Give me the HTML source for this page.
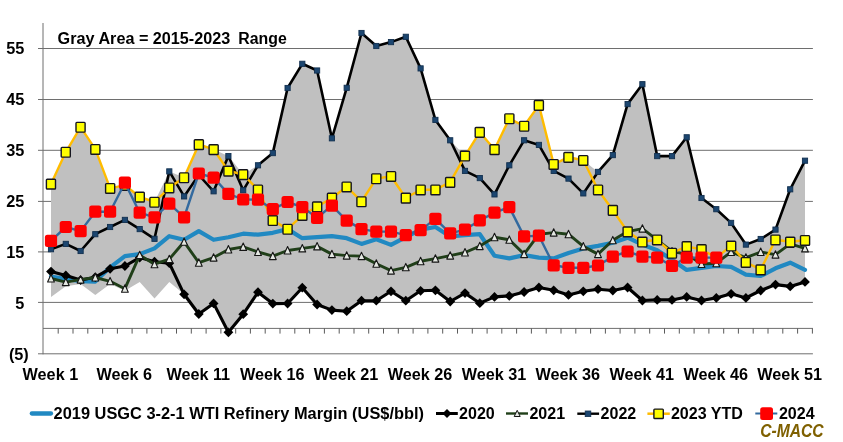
<!DOCTYPE html>
<html><head><meta charset="utf-8"><title>Chart</title>
<style>
html,body{margin:0;padding:0;background:#fff;}
body{width:843px;height:442px;overflow:hidden;}
svg{display:block;will-change:transform;}
text{font-family:"Liberation Sans",sans-serif;font-weight:bold;fill:#000;}
</style></head><body>
<svg width="843" height="442" viewBox="0 0 843 442">
<rect width="843" height="442" fill="#fff"/>
<line x1="38" y1="48.5" x2="812.9" y2="48.5" stroke="#6e6e6e" stroke-width="1"/>
<line x1="38" y1="99.5" x2="812.9" y2="99.5" stroke="#6e6e6e" stroke-width="1"/>
<line x1="38" y1="150.3" x2="812.9" y2="150.3" stroke="#6e6e6e" stroke-width="1"/>
<line x1="38" y1="201.4" x2="812.9" y2="201.4" stroke="#6e6e6e" stroke-width="1"/>
<line x1="38" y1="251.9" x2="812.9" y2="251.9" stroke="#6e6e6e" stroke-width="1"/>
<line x1="38" y1="302.4" x2="812.9" y2="302.4" stroke="#6e6e6e" stroke-width="1"/>
<line x1="43" y1="328.4" x2="812.9" y2="328.4" stroke="#6e6e6e" stroke-width="1"/>
<line x1="38" y1="353.8" x2="812.9" y2="353.8" stroke="#6e6e6e" stroke-width="1"/>
<line x1="43" y1="23" x2="43" y2="354.3" stroke="#6e6e6e" stroke-width="1"/>
<line x1="58.2" y1="328.4" x2="58.2" y2="333.6" stroke="#5a5a5a" stroke-width="1"/>
<line x1="73.0" y1="328.4" x2="73.0" y2="333.6" stroke="#5a5a5a" stroke-width="1"/>
<line x1="87.8" y1="328.4" x2="87.8" y2="333.6" stroke="#5a5a5a" stroke-width="1"/>
<line x1="102.6" y1="328.4" x2="102.6" y2="333.6" stroke="#5a5a5a" stroke-width="1"/>
<line x1="117.4" y1="328.4" x2="117.4" y2="333.6" stroke="#5a5a5a" stroke-width="1"/>
<line x1="132.1" y1="328.4" x2="132.1" y2="333.6" stroke="#5a5a5a" stroke-width="1"/>
<line x1="146.9" y1="328.4" x2="146.9" y2="333.6" stroke="#5a5a5a" stroke-width="1"/>
<line x1="161.7" y1="328.4" x2="161.7" y2="333.6" stroke="#5a5a5a" stroke-width="1"/>
<line x1="176.5" y1="328.4" x2="176.5" y2="333.6" stroke="#5a5a5a" stroke-width="1"/>
<line x1="191.3" y1="328.4" x2="191.3" y2="333.6" stroke="#5a5a5a" stroke-width="1"/>
<line x1="206.1" y1="328.4" x2="206.1" y2="333.6" stroke="#5a5a5a" stroke-width="1"/>
<line x1="220.9" y1="328.4" x2="220.9" y2="333.6" stroke="#5a5a5a" stroke-width="1"/>
<line x1="235.7" y1="328.4" x2="235.7" y2="333.6" stroke="#5a5a5a" stroke-width="1"/>
<line x1="250.4" y1="328.4" x2="250.4" y2="333.6" stroke="#5a5a5a" stroke-width="1"/>
<line x1="265.2" y1="328.4" x2="265.2" y2="333.6" stroke="#5a5a5a" stroke-width="1"/>
<line x1="280.0" y1="328.4" x2="280.0" y2="333.6" stroke="#5a5a5a" stroke-width="1"/>
<line x1="294.8" y1="328.4" x2="294.8" y2="333.6" stroke="#5a5a5a" stroke-width="1"/>
<line x1="309.6" y1="328.4" x2="309.6" y2="333.6" stroke="#5a5a5a" stroke-width="1"/>
<line x1="324.4" y1="328.4" x2="324.4" y2="333.6" stroke="#5a5a5a" stroke-width="1"/>
<line x1="339.2" y1="328.4" x2="339.2" y2="333.6" stroke="#5a5a5a" stroke-width="1"/>
<line x1="354.0" y1="328.4" x2="354.0" y2="333.6" stroke="#5a5a5a" stroke-width="1"/>
<line x1="368.7" y1="328.4" x2="368.7" y2="333.6" stroke="#5a5a5a" stroke-width="1"/>
<line x1="383.5" y1="328.4" x2="383.5" y2="333.6" stroke="#5a5a5a" stroke-width="1"/>
<line x1="398.3" y1="328.4" x2="398.3" y2="333.6" stroke="#5a5a5a" stroke-width="1"/>
<line x1="413.1" y1="328.4" x2="413.1" y2="333.6" stroke="#5a5a5a" stroke-width="1"/>
<line x1="427.9" y1="328.4" x2="427.9" y2="333.6" stroke="#5a5a5a" stroke-width="1"/>
<line x1="442.7" y1="328.4" x2="442.7" y2="333.6" stroke="#5a5a5a" stroke-width="1"/>
<line x1="457.5" y1="328.4" x2="457.5" y2="333.6" stroke="#5a5a5a" stroke-width="1"/>
<line x1="472.3" y1="328.4" x2="472.3" y2="333.6" stroke="#5a5a5a" stroke-width="1"/>
<line x1="487.1" y1="328.4" x2="487.1" y2="333.6" stroke="#5a5a5a" stroke-width="1"/>
<line x1="501.8" y1="328.4" x2="501.8" y2="333.6" stroke="#5a5a5a" stroke-width="1"/>
<line x1="516.6" y1="328.4" x2="516.6" y2="333.6" stroke="#5a5a5a" stroke-width="1"/>
<line x1="531.4" y1="328.4" x2="531.4" y2="333.6" stroke="#5a5a5a" stroke-width="1"/>
<line x1="546.2" y1="328.4" x2="546.2" y2="333.6" stroke="#5a5a5a" stroke-width="1"/>
<line x1="561.0" y1="328.4" x2="561.0" y2="333.6" stroke="#5a5a5a" stroke-width="1"/>
<line x1="575.8" y1="328.4" x2="575.8" y2="333.6" stroke="#5a5a5a" stroke-width="1"/>
<line x1="590.6" y1="328.4" x2="590.6" y2="333.6" stroke="#5a5a5a" stroke-width="1"/>
<line x1="605.4" y1="328.4" x2="605.4" y2="333.6" stroke="#5a5a5a" stroke-width="1"/>
<line x1="620.1" y1="328.4" x2="620.1" y2="333.6" stroke="#5a5a5a" stroke-width="1"/>
<line x1="634.9" y1="328.4" x2="634.9" y2="333.6" stroke="#5a5a5a" stroke-width="1"/>
<line x1="649.7" y1="328.4" x2="649.7" y2="333.6" stroke="#5a5a5a" stroke-width="1"/>
<line x1="664.5" y1="328.4" x2="664.5" y2="333.6" stroke="#5a5a5a" stroke-width="1"/>
<line x1="679.3" y1="328.4" x2="679.3" y2="333.6" stroke="#5a5a5a" stroke-width="1"/>
<line x1="694.1" y1="328.4" x2="694.1" y2="333.6" stroke="#5a5a5a" stroke-width="1"/>
<line x1="708.9" y1="328.4" x2="708.9" y2="333.6" stroke="#5a5a5a" stroke-width="1"/>
<line x1="723.7" y1="328.4" x2="723.7" y2="333.6" stroke="#5a5a5a" stroke-width="1"/>
<line x1="738.4" y1="328.4" x2="738.4" y2="333.6" stroke="#5a5a5a" stroke-width="1"/>
<line x1="753.2" y1="328.4" x2="753.2" y2="333.6" stroke="#5a5a5a" stroke-width="1"/>
<line x1="768.0" y1="328.4" x2="768.0" y2="333.6" stroke="#5a5a5a" stroke-width="1"/>
<line x1="782.8" y1="328.4" x2="782.8" y2="333.6" stroke="#5a5a5a" stroke-width="1"/>
<line x1="797.6" y1="328.4" x2="797.6" y2="333.6" stroke="#5a5a5a" stroke-width="1"/>
<line x1="812.4" y1="328.4" x2="812.4" y2="333.6" stroke="#5a5a5a" stroke-width="1"/>
<polygon points="51.0,183.9 65.8,152.1 80.6,127.1 95.3,149.2 110.1,188.3 124.9,185.2 139.7,196.9 154.5,202.0 169.3,171.4 184.1,177.6 198.8,144.4 213.6,149.5 228.4,156.1 243.2,174.5 258.0,165.3 272.8,153.1 287.6,88.0 302.3,63.8 317.1,70.5 331.9,138.3 346.7,87.8 361.5,33.0 376.3,46.0 391.0,42.1 405.8,36.8 420.6,68.4 435.4,119.9 450.2,140.3 465.0,155.9 479.8,132.2 494.5,149.5 509.3,118.6 524.1,126.0 538.9,105.1 553.7,164.3 568.5,157.2 583.3,160.2 598.0,171.9 612.8,155.1 627.6,104.1 642.4,84.2 657.2,156.1 672.0,156.1 686.7,137.3 701.5,198.0 716.3,209.2 731.1,222.9 745.9,244.6 760.7,239.0 775.5,229.6 790.2,189.3 805.0,160.7 805.0,281.9 790.2,286.4 775.5,284.6 760.7,290.5 745.9,297.9 731.1,293.8 716.3,297.9 701.5,300.5 686.7,296.9 672.0,299.9 657.2,299.9 642.4,300.5 627.6,287.5 612.8,290.5 598.0,289.2 583.3,291.3 568.5,294.9 553.7,290.3 538.9,287.5 524.1,292.0 509.3,295.9 494.5,296.9 479.8,303.2 465.0,293.1 450.2,301.5 435.4,290.3 420.6,290.8 405.8,300.7 391.0,291.3 376.3,300.7 361.5,300.7 346.7,311.2 331.9,310.1 317.1,304.5 302.3,287.7 287.6,303.5 272.8,303.6 258.0,292.2 243.2,314.2 228.4,332.3 213.6,303.4 198.8,314.0 184.1,294.3 169.3,282.1 154.5,298.4 139.7,282.1 124.9,290.8 110.1,284.1 95.3,294.9 80.6,284.1 65.8,286.2 51.0,296.9" fill="#c0c0c0"/>
<polyline points="51.0,276.5 65.8,279.0 80.6,281.1 95.3,281.6 110.1,267.3 124.9,256.1 139.7,254.1 154.5,248.4 169.3,236.2 184.1,239.8 198.8,231.1 213.6,239.8 228.4,237.2 243.2,233.7 258.0,234.7 272.8,232.8 287.6,229.1 302.3,238.2 317.1,237.2 331.9,236.2 346.7,238.2 361.5,243.9 376.3,239.3 391.0,244.9 405.8,237.2 420.6,229.6 435.4,227.0 450.2,236.4 465.0,235.2 479.8,234.2 494.5,255.8 509.3,258.4 524.1,255.1 538.9,257.6 553.7,258.4 568.5,253.0 583.3,248.4 598.0,245.9 612.8,242.8 627.6,237.7 642.4,244.6 657.2,250.2 672.0,259.7 686.7,269.9 701.5,267.8 716.3,266.0 731.1,266.8 745.9,274.7 760.7,276.0 775.5,268.3 790.2,262.7 805.0,269.9" fill="none" stroke="#2189c2" stroke-width="4.2" stroke-linejoin="round" stroke-linecap="round"/>
<polyline points="51.0,271.6 65.8,275.5 80.6,280.1 95.3,277.2 110.1,268.8 124.9,266.0 139.7,257.6 154.5,261.7 169.3,263.2 184.1,294.3 198.8,314.0 213.6,303.4 228.4,332.3 243.2,314.2 258.0,292.2 272.8,303.6 287.6,303.5 302.3,287.7 317.1,304.5 331.9,310.1 346.7,311.2 361.5,300.7 376.3,300.7 391.0,291.3 405.8,300.7 420.6,290.8 435.4,290.3 450.2,301.5 465.0,293.1 479.8,303.2 494.5,296.9 509.3,295.9 524.1,292.0 538.9,287.5 553.7,290.3 568.5,294.9 583.3,291.3 598.0,289.2 612.8,290.5 627.6,287.5 642.4,300.5 657.2,299.9 672.0,299.9 686.7,296.9 701.5,300.5 716.3,297.9 731.1,293.8 745.9,297.9 760.7,290.5 775.5,284.6 790.2,286.4 805.0,281.9" fill="none" stroke="#000000" stroke-width="3.1" stroke-linejoin="round" />
<polygon points="51.0,266.7 55.9,271.6 51.0,276.5 46.1,271.6" fill="#000"/>
<polygon points="65.8,270.6 70.7,275.5 65.8,280.4 60.9,275.5" fill="#000"/>
<polygon points="80.6,275.2 85.5,280.1 80.6,285.0 75.7,280.1" fill="#000"/>
<polygon points="95.3,272.3 100.2,277.2 95.3,282.1 90.4,277.2" fill="#000"/>
<polygon points="110.1,263.9 115.0,268.8 110.1,273.7 105.2,268.8" fill="#000"/>
<polygon points="124.9,261.1 129.8,266.0 124.9,270.9 120.0,266.0" fill="#000"/>
<polygon points="139.7,252.7 144.6,257.6 139.7,262.5 134.8,257.6" fill="#000"/>
<polygon points="154.5,256.8 159.4,261.7 154.5,266.6 149.6,261.7" fill="#000"/>
<polygon points="169.3,258.3 174.2,263.2 169.3,268.1 164.4,263.2" fill="#000"/>
<polygon points="184.1,289.4 189.0,294.3 184.1,299.2 179.2,294.3" fill="#000"/>
<polygon points="198.8,309.1 203.7,314.0 198.8,318.9 193.9,314.0" fill="#000"/>
<polygon points="213.6,298.5 218.5,303.4 213.6,308.3 208.7,303.4" fill="#000"/>
<polygon points="228.4,327.4 233.3,332.3 228.4,337.2 223.5,332.3" fill="#000"/>
<polygon points="243.2,309.3 248.1,314.2 243.2,319.1 238.3,314.2" fill="#000"/>
<polygon points="258.0,287.3 262.9,292.2 258.0,297.1 253.1,292.2" fill="#000"/>
<polygon points="272.8,298.7 277.7,303.6 272.8,308.5 267.9,303.6" fill="#000"/>
<polygon points="287.6,298.6 292.5,303.5 287.6,308.4 282.7,303.5" fill="#000"/>
<polygon points="302.3,282.8 307.2,287.7 302.3,292.6 297.4,287.7" fill="#000"/>
<polygon points="317.1,299.6 322.0,304.5 317.1,309.4 312.2,304.5" fill="#000"/>
<polygon points="331.9,305.2 336.8,310.1 331.9,315.0 327.0,310.1" fill="#000"/>
<polygon points="346.7,306.3 351.6,311.2 346.7,316.1 341.8,311.2" fill="#000"/>
<polygon points="361.5,295.8 366.4,300.7 361.5,305.6 356.6,300.7" fill="#000"/>
<polygon points="376.3,295.8 381.2,300.7 376.3,305.6 371.4,300.7" fill="#000"/>
<polygon points="391.0,286.4 395.9,291.3 391.0,296.2 386.1,291.3" fill="#000"/>
<polygon points="405.8,295.8 410.7,300.7 405.8,305.6 400.9,300.7" fill="#000"/>
<polygon points="420.6,285.9 425.5,290.8 420.6,295.7 415.7,290.8" fill="#000"/>
<polygon points="435.4,285.4 440.3,290.3 435.4,295.2 430.5,290.3" fill="#000"/>
<polygon points="450.2,296.6 455.1,301.5 450.2,306.4 445.3,301.5" fill="#000"/>
<polygon points="465.0,288.2 469.9,293.1 465.0,298.0 460.1,293.1" fill="#000"/>
<polygon points="479.8,298.3 484.7,303.2 479.8,308.1 474.9,303.2" fill="#000"/>
<polygon points="494.5,292.0 499.4,296.9 494.5,301.8 489.6,296.9" fill="#000"/>
<polygon points="509.3,291.0 514.2,295.9 509.3,300.8 504.4,295.9" fill="#000"/>
<polygon points="524.1,287.1 529.0,292.0 524.1,296.9 519.2,292.0" fill="#000"/>
<polygon points="538.9,282.6 543.8,287.5 538.9,292.4 534.0,287.5" fill="#000"/>
<polygon points="553.7,285.4 558.6,290.3 553.7,295.2 548.8,290.3" fill="#000"/>
<polygon points="568.5,290.0 573.4,294.9 568.5,299.8 563.6,294.9" fill="#000"/>
<polygon points="583.3,286.4 588.2,291.3 583.3,296.2 578.4,291.3" fill="#000"/>
<polygon points="598.0,284.3 602.9,289.2 598.0,294.1 593.1,289.2" fill="#000"/>
<polygon points="612.8,285.6 617.7,290.5 612.8,295.4 607.9,290.5" fill="#000"/>
<polygon points="627.6,282.6 632.5,287.5 627.6,292.4 622.7,287.5" fill="#000"/>
<polygon points="642.4,295.6 647.3,300.5 642.4,305.4 637.5,300.5" fill="#000"/>
<polygon points="657.2,295.1 662.1,299.9 657.2,304.8 652.3,299.9" fill="#000"/>
<polygon points="672.0,295.1 676.9,299.9 672.0,304.8 667.1,299.9" fill="#000"/>
<polygon points="686.7,292.0 691.6,296.9 686.7,301.8 681.8,296.9" fill="#000"/>
<polygon points="701.5,295.6 706.4,300.5 701.5,305.4 696.6,300.5" fill="#000"/>
<polygon points="716.3,293.0 721.2,297.9 716.3,302.8 711.4,297.9" fill="#000"/>
<polygon points="731.1,288.9 736.0,293.8 731.1,298.7 726.2,293.8" fill="#000"/>
<polygon points="745.9,293.0 750.8,297.9 745.9,302.8 741.0,297.9" fill="#000"/>
<polygon points="760.7,285.6 765.6,290.5 760.7,295.4 755.8,290.5" fill="#000"/>
<polygon points="775.5,279.8 780.4,284.6 775.5,289.5 770.6,284.6" fill="#000"/>
<polygon points="790.2,281.5 795.1,286.4 790.2,291.3 785.3,286.4" fill="#000"/>
<polygon points="805.0,277.0 809.9,281.9 805.0,286.8 800.1,281.9" fill="#000"/>
<polyline points="51.0,278.5 65.8,282.1 80.6,279.6 95.3,277.5 110.1,281.3 124.9,288.7 139.7,255.1 154.5,264.2 169.3,259.1 184.1,241.8 198.8,262.7 213.6,257.6 228.4,249.5 243.2,246.9 258.0,252.0 272.8,256.1 287.6,250.5 302.3,248.4 317.1,246.4 331.9,254.1 346.7,255.6 361.5,256.1 376.3,263.7 391.0,270.6 405.8,267.3 420.6,261.2 435.4,258.6 450.2,255.6 465.0,252.5 479.8,246.1 494.5,237.2 509.3,239.8 524.1,254.1 538.9,234.2 553.7,232.6 568.5,234.2 583.3,246.4 598.0,254.1 612.8,240.3 627.6,231.6 642.4,228.6 657.2,239.8 672.0,251.5 686.7,254.1 701.5,264.0 716.3,263.2 731.1,252.0 745.9,257.6 760.7,252.0 775.5,254.6 790.2,243.9 805.0,248.4" fill="none" stroke="#203f19" stroke-width="2.9" stroke-linejoin="round" />
<polygon points="51.0,274.6 54.4,282.0 47.6,282.0" fill="#e4e8e2" stroke="#151515" stroke-width="1.1" stroke-linejoin="round"/>
<polygon points="65.8,278.2 69.2,285.6 62.4,285.6" fill="#e4e8e2" stroke="#151515" stroke-width="1.1" stroke-linejoin="round"/>
<polygon points="80.6,275.7 84.0,283.1 77.2,283.1" fill="#e4e8e2" stroke="#151515" stroke-width="1.1" stroke-linejoin="round"/>
<polygon points="95.3,273.6 98.7,281.0 91.9,281.0" fill="#e4e8e2" stroke="#151515" stroke-width="1.1" stroke-linejoin="round"/>
<polygon points="110.1,277.4 113.5,284.8 106.7,284.8" fill="#e4e8e2" stroke="#151515" stroke-width="1.1" stroke-linejoin="round"/>
<polygon points="124.9,284.8 128.3,292.2 121.5,292.2" fill="#e4e8e2" stroke="#151515" stroke-width="1.1" stroke-linejoin="round"/>
<polygon points="139.7,251.2 143.1,258.6 136.3,258.6" fill="#e4e8e2" stroke="#151515" stroke-width="1.1" stroke-linejoin="round"/>
<polygon points="154.5,260.4 157.9,267.8 151.1,267.8" fill="#e4e8e2" stroke="#151515" stroke-width="1.1" stroke-linejoin="round"/>
<polygon points="169.3,255.2 172.7,262.6 165.9,262.6" fill="#e4e8e2" stroke="#151515" stroke-width="1.1" stroke-linejoin="round"/>
<polygon points="184.1,237.9 187.5,245.3 180.7,245.3" fill="#e4e8e2" stroke="#151515" stroke-width="1.1" stroke-linejoin="round"/>
<polygon points="198.8,258.8 202.2,266.2 195.4,266.2" fill="#e4e8e2" stroke="#151515" stroke-width="1.1" stroke-linejoin="round"/>
<polygon points="213.6,253.7 217.0,261.1 210.2,261.1" fill="#e4e8e2" stroke="#151515" stroke-width="1.1" stroke-linejoin="round"/>
<polygon points="228.4,245.6 231.8,253.0 225.0,253.0" fill="#e4e8e2" stroke="#151515" stroke-width="1.1" stroke-linejoin="round"/>
<polygon points="243.2,243.0 246.6,250.4 239.8,250.4" fill="#e4e8e2" stroke="#151515" stroke-width="1.1" stroke-linejoin="round"/>
<polygon points="258.0,248.1 261.4,255.5 254.6,255.5" fill="#e4e8e2" stroke="#151515" stroke-width="1.1" stroke-linejoin="round"/>
<polygon points="272.8,252.2 276.2,259.6 269.4,259.6" fill="#e4e8e2" stroke="#151515" stroke-width="1.1" stroke-linejoin="round"/>
<polygon points="287.6,246.6 291.0,254.0 284.2,254.0" fill="#e4e8e2" stroke="#151515" stroke-width="1.1" stroke-linejoin="round"/>
<polygon points="302.3,244.5 305.7,251.9 298.9,251.9" fill="#e4e8e2" stroke="#151515" stroke-width="1.1" stroke-linejoin="round"/>
<polygon points="317.1,242.5 320.5,249.9 313.7,249.9" fill="#e4e8e2" stroke="#151515" stroke-width="1.1" stroke-linejoin="round"/>
<polygon points="331.9,250.2 335.3,257.6 328.5,257.6" fill="#e4e8e2" stroke="#151515" stroke-width="1.1" stroke-linejoin="round"/>
<polygon points="346.7,251.7 350.1,259.1 343.3,259.1" fill="#e4e8e2" stroke="#151515" stroke-width="1.1" stroke-linejoin="round"/>
<polygon points="361.5,252.2 364.9,259.6 358.1,259.6" fill="#e4e8e2" stroke="#151515" stroke-width="1.1" stroke-linejoin="round"/>
<polygon points="376.3,259.8 379.7,267.2 372.9,267.2" fill="#e4e8e2" stroke="#151515" stroke-width="1.1" stroke-linejoin="round"/>
<polygon points="391.0,266.7 394.4,274.1 387.6,274.1" fill="#e4e8e2" stroke="#151515" stroke-width="1.1" stroke-linejoin="round"/>
<polygon points="405.8,263.4 409.2,270.8 402.4,270.8" fill="#e4e8e2" stroke="#151515" stroke-width="1.1" stroke-linejoin="round"/>
<polygon points="420.6,257.3 424.0,264.7 417.2,264.7" fill="#e4e8e2" stroke="#151515" stroke-width="1.1" stroke-linejoin="round"/>
<polygon points="435.4,254.7 438.8,262.1 432.0,262.1" fill="#e4e8e2" stroke="#151515" stroke-width="1.1" stroke-linejoin="round"/>
<polygon points="450.2,251.7 453.6,259.1 446.8,259.1" fill="#e4e8e2" stroke="#151515" stroke-width="1.1" stroke-linejoin="round"/>
<polygon points="465.0,248.6 468.4,256.0 461.6,256.0" fill="#e4e8e2" stroke="#151515" stroke-width="1.1" stroke-linejoin="round"/>
<polygon points="479.8,242.2 483.2,249.6 476.4,249.6" fill="#e4e8e2" stroke="#151515" stroke-width="1.1" stroke-linejoin="round"/>
<polygon points="494.5,233.3 497.9,240.7 491.1,240.7" fill="#e4e8e2" stroke="#151515" stroke-width="1.1" stroke-linejoin="round"/>
<polygon points="509.3,235.9 512.7,243.3 505.9,243.3" fill="#e4e8e2" stroke="#151515" stroke-width="1.1" stroke-linejoin="round"/>
<polygon points="524.1,250.2 527.5,257.6 520.7,257.6" fill="#e4e8e2" stroke="#151515" stroke-width="1.1" stroke-linejoin="round"/>
<polygon points="538.9,230.3 542.3,237.7 535.5,237.7" fill="#e4e8e2" stroke="#151515" stroke-width="1.1" stroke-linejoin="round"/>
<polygon points="553.7,228.7 557.1,236.1 550.3,236.1" fill="#e4e8e2" stroke="#151515" stroke-width="1.1" stroke-linejoin="round"/>
<polygon points="568.5,230.3 571.9,237.7 565.1,237.7" fill="#e4e8e2" stroke="#151515" stroke-width="1.1" stroke-linejoin="round"/>
<polygon points="583.3,242.5 586.7,249.9 579.9,249.9" fill="#e4e8e2" stroke="#151515" stroke-width="1.1" stroke-linejoin="round"/>
<polygon points="598.0,250.2 601.4,257.6 594.6,257.6" fill="#e4e8e2" stroke="#151515" stroke-width="1.1" stroke-linejoin="round"/>
<polygon points="612.8,236.4 616.2,243.8 609.4,243.8" fill="#e4e8e2" stroke="#151515" stroke-width="1.1" stroke-linejoin="round"/>
<polygon points="627.6,227.7 631.0,235.1 624.2,235.1" fill="#e4e8e2" stroke="#151515" stroke-width="1.1" stroke-linejoin="round"/>
<polygon points="642.4,224.7 645.8,232.1 639.0,232.1" fill="#e4e8e2" stroke="#151515" stroke-width="1.1" stroke-linejoin="round"/>
<polygon points="657.2,235.9 660.6,243.3 653.8,243.3" fill="#e4e8e2" stroke="#151515" stroke-width="1.1" stroke-linejoin="round"/>
<polygon points="672.0,247.6 675.4,255.0 668.6,255.0" fill="#e4e8e2" stroke="#151515" stroke-width="1.1" stroke-linejoin="round"/>
<polygon points="686.7,250.2 690.1,257.6 683.3,257.6" fill="#e4e8e2" stroke="#151515" stroke-width="1.1" stroke-linejoin="round"/>
<polygon points="701.5,260.1 704.9,267.5 698.1,267.5" fill="#e4e8e2" stroke="#151515" stroke-width="1.1" stroke-linejoin="round"/>
<polygon points="716.3,259.3 719.7,266.7 712.9,266.7" fill="#e4e8e2" stroke="#151515" stroke-width="1.1" stroke-linejoin="round"/>
<polygon points="731.1,248.1 734.5,255.5 727.7,255.5" fill="#e4e8e2" stroke="#151515" stroke-width="1.1" stroke-linejoin="round"/>
<polygon points="745.9,253.7 749.3,261.1 742.5,261.1" fill="#e4e8e2" stroke="#151515" stroke-width="1.1" stroke-linejoin="round"/>
<polygon points="760.7,248.1 764.1,255.5 757.3,255.5" fill="#e4e8e2" stroke="#151515" stroke-width="1.1" stroke-linejoin="round"/>
<polygon points="775.5,250.7 778.9,258.1 772.1,258.1" fill="#e4e8e2" stroke="#151515" stroke-width="1.1" stroke-linejoin="round"/>
<polygon points="790.2,240.0 793.6,247.4 786.8,247.4" fill="#e4e8e2" stroke="#151515" stroke-width="1.1" stroke-linejoin="round"/>
<polygon points="805.0,244.5 808.4,251.9 801.6,251.9" fill="#e4e8e2" stroke="#151515" stroke-width="1.1" stroke-linejoin="round"/>
<polyline points="51.0,249.2 65.8,243.9 80.6,251.0 95.3,234.2 110.1,227.0 124.9,219.9 139.7,229.1 154.5,238.8 169.3,171.4 184.1,196.4 198.8,175.0 213.6,191.3 228.4,156.1 243.2,190.3 258.0,165.3 272.8,153.1 287.6,88.0 302.3,63.8 317.1,70.5 331.9,138.3 346.7,87.8 361.5,33.0 376.3,46.0 391.0,42.1 405.8,36.8 420.6,68.4 435.4,119.9 450.2,140.3 465.0,170.9 479.8,178.1 494.5,194.4 509.3,165.3 524.1,140.3 538.9,144.9 553.7,170.9 568.5,178.6 583.3,193.4 598.0,171.9 612.8,155.1 627.6,104.1 642.4,84.2 657.2,156.1 672.0,156.1 686.7,137.3 701.5,198.0 716.3,209.2 731.1,222.9 745.9,244.6 760.7,239.0 775.5,229.6 790.2,189.3 805.0,160.7" fill="none" stroke="#000000" stroke-width="2.6" stroke-linejoin="round" />
<rect x="48.4" y="246.6" width="5.2" height="5.2" fill="#1c4670" stroke="#12304f" stroke-width="0.9"/>
<rect x="63.2" y="241.3" width="5.2" height="5.2" fill="#1c4670" stroke="#12304f" stroke-width="0.9"/>
<rect x="78.0" y="248.4" width="5.2" height="5.2" fill="#1c4670" stroke="#12304f" stroke-width="0.9"/>
<rect x="92.7" y="231.6" width="5.2" height="5.2" fill="#1c4670" stroke="#12304f" stroke-width="0.9"/>
<rect x="107.5" y="224.4" width="5.2" height="5.2" fill="#1c4670" stroke="#12304f" stroke-width="0.9"/>
<rect x="122.3" y="217.3" width="5.2" height="5.2" fill="#1c4670" stroke="#12304f" stroke-width="0.9"/>
<rect x="137.1" y="226.5" width="5.2" height="5.2" fill="#1c4670" stroke="#12304f" stroke-width="0.9"/>
<rect x="151.9" y="236.2" width="5.2" height="5.2" fill="#1c4670" stroke="#12304f" stroke-width="0.9"/>
<rect x="166.7" y="168.8" width="5.2" height="5.2" fill="#1c4670" stroke="#12304f" stroke-width="0.9"/>
<rect x="181.5" y="193.8" width="5.2" height="5.2" fill="#1c4670" stroke="#12304f" stroke-width="0.9"/>
<rect x="196.2" y="172.4" width="5.2" height="5.2" fill="#1c4670" stroke="#12304f" stroke-width="0.9"/>
<rect x="211.0" y="188.7" width="5.2" height="5.2" fill="#1c4670" stroke="#12304f" stroke-width="0.9"/>
<rect x="225.8" y="153.5" width="5.2" height="5.2" fill="#1c4670" stroke="#12304f" stroke-width="0.9"/>
<rect x="240.6" y="187.7" width="5.2" height="5.2" fill="#1c4670" stroke="#12304f" stroke-width="0.9"/>
<rect x="255.4" y="162.7" width="5.2" height="5.2" fill="#1c4670" stroke="#12304f" stroke-width="0.9"/>
<rect x="270.2" y="150.5" width="5.2" height="5.2" fill="#1c4670" stroke="#12304f" stroke-width="0.9"/>
<rect x="285.0" y="85.4" width="5.2" height="5.2" fill="#1c4670" stroke="#12304f" stroke-width="0.9"/>
<rect x="299.7" y="61.2" width="5.2" height="5.2" fill="#1c4670" stroke="#12304f" stroke-width="0.9"/>
<rect x="314.5" y="67.9" width="5.2" height="5.2" fill="#1c4670" stroke="#12304f" stroke-width="0.9"/>
<rect x="329.3" y="135.7" width="5.2" height="5.2" fill="#1c4670" stroke="#12304f" stroke-width="0.9"/>
<rect x="344.1" y="85.2" width="5.2" height="5.2" fill="#1c4670" stroke="#12304f" stroke-width="0.9"/>
<rect x="358.9" y="30.4" width="5.2" height="5.2" fill="#1c4670" stroke="#12304f" stroke-width="0.9"/>
<rect x="373.7" y="43.4" width="5.2" height="5.2" fill="#1c4670" stroke="#12304f" stroke-width="0.9"/>
<rect x="388.4" y="39.5" width="5.2" height="5.2" fill="#1c4670" stroke="#12304f" stroke-width="0.9"/>
<rect x="403.2" y="34.2" width="5.2" height="5.2" fill="#1c4670" stroke="#12304f" stroke-width="0.9"/>
<rect x="418.0" y="65.8" width="5.2" height="5.2" fill="#1c4670" stroke="#12304f" stroke-width="0.9"/>
<rect x="432.8" y="117.3" width="5.2" height="5.2" fill="#1c4670" stroke="#12304f" stroke-width="0.9"/>
<rect x="447.6" y="137.7" width="5.2" height="5.2" fill="#1c4670" stroke="#12304f" stroke-width="0.9"/>
<rect x="462.4" y="168.3" width="5.2" height="5.2" fill="#1c4670" stroke="#12304f" stroke-width="0.9"/>
<rect x="477.2" y="175.5" width="5.2" height="5.2" fill="#1c4670" stroke="#12304f" stroke-width="0.9"/>
<rect x="491.9" y="191.8" width="5.2" height="5.2" fill="#1c4670" stroke="#12304f" stroke-width="0.9"/>
<rect x="506.7" y="162.7" width="5.2" height="5.2" fill="#1c4670" stroke="#12304f" stroke-width="0.9"/>
<rect x="521.5" y="137.7" width="5.2" height="5.2" fill="#1c4670" stroke="#12304f" stroke-width="0.9"/>
<rect x="536.3" y="142.3" width="5.2" height="5.2" fill="#1c4670" stroke="#12304f" stroke-width="0.9"/>
<rect x="551.1" y="168.3" width="5.2" height="5.2" fill="#1c4670" stroke="#12304f" stroke-width="0.9"/>
<rect x="565.9" y="176.0" width="5.2" height="5.2" fill="#1c4670" stroke="#12304f" stroke-width="0.9"/>
<rect x="580.7" y="190.8" width="5.2" height="5.2" fill="#1c4670" stroke="#12304f" stroke-width="0.9"/>
<rect x="595.4" y="169.3" width="5.2" height="5.2" fill="#1c4670" stroke="#12304f" stroke-width="0.9"/>
<rect x="610.2" y="152.5" width="5.2" height="5.2" fill="#1c4670" stroke="#12304f" stroke-width="0.9"/>
<rect x="625.0" y="101.5" width="5.2" height="5.2" fill="#1c4670" stroke="#12304f" stroke-width="0.9"/>
<rect x="639.8" y="81.6" width="5.2" height="5.2" fill="#1c4670" stroke="#12304f" stroke-width="0.9"/>
<rect x="654.6" y="153.5" width="5.2" height="5.2" fill="#1c4670" stroke="#12304f" stroke-width="0.9"/>
<rect x="669.4" y="153.5" width="5.2" height="5.2" fill="#1c4670" stroke="#12304f" stroke-width="0.9"/>
<rect x="684.1" y="134.7" width="5.2" height="5.2" fill="#1c4670" stroke="#12304f" stroke-width="0.9"/>
<rect x="698.9" y="195.4" width="5.2" height="5.2" fill="#1c4670" stroke="#12304f" stroke-width="0.9"/>
<rect x="713.7" y="206.6" width="5.2" height="5.2" fill="#1c4670" stroke="#12304f" stroke-width="0.9"/>
<rect x="728.5" y="220.3" width="5.2" height="5.2" fill="#1c4670" stroke="#12304f" stroke-width="0.9"/>
<rect x="743.3" y="242.0" width="5.2" height="5.2" fill="#1c4670" stroke="#12304f" stroke-width="0.9"/>
<rect x="758.1" y="236.4" width="5.2" height="5.2" fill="#1c4670" stroke="#12304f" stroke-width="0.9"/>
<rect x="772.9" y="227.0" width="5.2" height="5.2" fill="#1c4670" stroke="#12304f" stroke-width="0.9"/>
<rect x="787.6" y="186.7" width="5.2" height="5.2" fill="#1c4670" stroke="#12304f" stroke-width="0.9"/>
<rect x="802.4" y="158.1" width="5.2" height="5.2" fill="#1c4670" stroke="#12304f" stroke-width="0.9"/>
<polyline points="51.0,183.9 65.8,152.1 80.6,127.1 95.3,149.2 110.1,188.3 124.9,185.2 139.7,196.9 154.5,202.0 169.3,187.8 184.1,177.6 198.8,144.4 213.6,149.5 228.4,170.9 243.2,174.5 258.0,189.8 272.8,220.4 287.6,229.1 302.3,215.3 317.1,206.6 331.9,198.0 346.7,186.7 361.5,201.5 376.3,178.6 391.0,176.3 405.8,198.0 420.6,189.8 435.4,189.8 450.2,182.1 465.0,155.9 479.8,132.2 494.5,149.5 509.3,118.6 524.1,126.0 538.9,105.1 553.7,164.3 568.5,157.2 583.3,160.2 598.0,189.8 612.8,210.2 627.6,231.6 642.4,241.8 657.2,239.8 672.0,253.0 686.7,246.4 701.5,249.5 716.3,257.6 731.1,245.9 745.9,262.2 760.7,269.6 775.5,239.8 790.2,241.8 805.0,240.3" fill="none" stroke="#ffbc00" stroke-width="2.4" stroke-linejoin="round" />
<rect x="46.4" y="179.3" width="9.1" height="9.7" rx="0.8" fill="#ffff00" stroke="#15151f" stroke-width="1.4"/>
<rect x="61.2" y="147.4" width="9.1" height="9.7" rx="0.8" fill="#ffff00" stroke="#15151f" stroke-width="1.4"/>
<rect x="76.0" y="122.4" width="9.1" height="9.7" rx="0.8" fill="#ffff00" stroke="#15151f" stroke-width="1.4"/>
<rect x="90.8" y="144.6" width="9.1" height="9.7" rx="0.8" fill="#ffff00" stroke="#15151f" stroke-width="1.4"/>
<rect x="105.6" y="183.6" width="9.1" height="9.7" rx="0.8" fill="#ffff00" stroke="#15151f" stroke-width="1.4"/>
<rect x="120.4" y="180.6" width="9.1" height="9.7" rx="0.8" fill="#ffff00" stroke="#15151f" stroke-width="1.4"/>
<rect x="135.2" y="192.3" width="9.1" height="9.7" rx="0.8" fill="#ffff00" stroke="#15151f" stroke-width="1.4"/>
<rect x="149.9" y="197.4" width="9.1" height="9.7" rx="0.8" fill="#ffff00" stroke="#15151f" stroke-width="1.4"/>
<rect x="164.7" y="183.1" width="9.1" height="9.7" rx="0.8" fill="#ffff00" stroke="#15151f" stroke-width="1.4"/>
<rect x="179.5" y="172.9" width="9.1" height="9.7" rx="0.8" fill="#ffff00" stroke="#15151f" stroke-width="1.4"/>
<rect x="194.3" y="139.8" width="9.1" height="9.7" rx="0.8" fill="#ffff00" stroke="#15151f" stroke-width="1.4"/>
<rect x="209.1" y="144.8" width="9.1" height="9.7" rx="0.8" fill="#ffff00" stroke="#15151f" stroke-width="1.4"/>
<rect x="223.9" y="166.3" width="9.1" height="9.7" rx="0.8" fill="#ffff00" stroke="#15151f" stroke-width="1.4"/>
<rect x="238.6" y="169.8" width="9.1" height="9.7" rx="0.8" fill="#ffff00" stroke="#15151f" stroke-width="1.4"/>
<rect x="253.4" y="185.1" width="9.1" height="9.7" rx="0.8" fill="#ffff00" stroke="#15151f" stroke-width="1.4"/>
<rect x="268.2" y="215.7" width="9.1" height="9.7" rx="0.8" fill="#ffff00" stroke="#15151f" stroke-width="1.4"/>
<rect x="283.0" y="224.4" width="9.1" height="9.7" rx="0.8" fill="#ffff00" stroke="#15151f" stroke-width="1.4"/>
<rect x="297.8" y="210.6" width="9.1" height="9.7" rx="0.8" fill="#ffff00" stroke="#15151f" stroke-width="1.4"/>
<rect x="312.6" y="202.0" width="9.1" height="9.7" rx="0.8" fill="#ffff00" stroke="#15151f" stroke-width="1.4"/>
<rect x="327.4" y="193.3" width="9.1" height="9.7" rx="0.8" fill="#ffff00" stroke="#15151f" stroke-width="1.4"/>
<rect x="342.1" y="182.1" width="9.1" height="9.7" rx="0.8" fill="#ffff00" stroke="#15151f" stroke-width="1.4"/>
<rect x="356.9" y="196.9" width="9.1" height="9.7" rx="0.8" fill="#ffff00" stroke="#15151f" stroke-width="1.4"/>
<rect x="371.7" y="173.9" width="9.1" height="9.7" rx="0.8" fill="#ffff00" stroke="#15151f" stroke-width="1.4"/>
<rect x="386.5" y="171.6" width="9.1" height="9.7" rx="0.8" fill="#ffff00" stroke="#15151f" stroke-width="1.4"/>
<rect x="401.3" y="193.3" width="9.1" height="9.7" rx="0.8" fill="#ffff00" stroke="#15151f" stroke-width="1.4"/>
<rect x="416.1" y="185.1" width="9.1" height="9.7" rx="0.8" fill="#ffff00" stroke="#15151f" stroke-width="1.4"/>
<rect x="430.9" y="185.1" width="9.1" height="9.7" rx="0.8" fill="#ffff00" stroke="#15151f" stroke-width="1.4"/>
<rect x="445.6" y="177.5" width="9.1" height="9.7" rx="0.8" fill="#ffff00" stroke="#15151f" stroke-width="1.4"/>
<rect x="460.4" y="151.2" width="9.1" height="9.7" rx="0.8" fill="#ffff00" stroke="#15151f" stroke-width="1.4"/>
<rect x="475.2" y="127.5" width="9.1" height="9.7" rx="0.8" fill="#ffff00" stroke="#15151f" stroke-width="1.4"/>
<rect x="490.0" y="144.8" width="9.1" height="9.7" rx="0.8" fill="#ffff00" stroke="#15151f" stroke-width="1.4"/>
<rect x="504.8" y="113.9" width="9.1" height="9.7" rx="0.8" fill="#ffff00" stroke="#15151f" stroke-width="1.4"/>
<rect x="519.6" y="121.4" width="9.1" height="9.7" rx="0.8" fill="#ffff00" stroke="#15151f" stroke-width="1.4"/>
<rect x="534.3" y="100.5" width="9.1" height="9.7" rx="0.8" fill="#ffff00" stroke="#15151f" stroke-width="1.4"/>
<rect x="549.1" y="159.6" width="9.1" height="9.7" rx="0.8" fill="#ffff00" stroke="#15151f" stroke-width="1.4"/>
<rect x="563.9" y="152.5" width="9.1" height="9.7" rx="0.8" fill="#ffff00" stroke="#15151f" stroke-width="1.4"/>
<rect x="578.7" y="155.6" width="9.1" height="9.7" rx="0.8" fill="#ffff00" stroke="#15151f" stroke-width="1.4"/>
<rect x="593.5" y="185.1" width="9.1" height="9.7" rx="0.8" fill="#ffff00" stroke="#15151f" stroke-width="1.4"/>
<rect x="608.3" y="205.5" width="9.1" height="9.7" rx="0.8" fill="#ffff00" stroke="#15151f" stroke-width="1.4"/>
<rect x="623.1" y="227.0" width="9.1" height="9.7" rx="0.8" fill="#ffff00" stroke="#15151f" stroke-width="1.4"/>
<rect x="637.8" y="237.2" width="9.1" height="9.7" rx="0.8" fill="#ffff00" stroke="#15151f" stroke-width="1.4"/>
<rect x="652.6" y="235.1" width="9.1" height="9.7" rx="0.8" fill="#ffff00" stroke="#15151f" stroke-width="1.4"/>
<rect x="667.4" y="248.4" width="9.1" height="9.7" rx="0.8" fill="#ffff00" stroke="#15151f" stroke-width="1.4"/>
<rect x="682.2" y="241.8" width="9.1" height="9.7" rx="0.8" fill="#ffff00" stroke="#15151f" stroke-width="1.4"/>
<rect x="697.0" y="244.8" width="9.1" height="9.7" rx="0.8" fill="#ffff00" stroke="#15151f" stroke-width="1.4"/>
<rect x="711.8" y="253.0" width="9.1" height="9.7" rx="0.8" fill="#ffff00" stroke="#15151f" stroke-width="1.4"/>
<rect x="726.6" y="241.2" width="9.1" height="9.7" rx="0.8" fill="#ffff00" stroke="#15151f" stroke-width="1.4"/>
<rect x="741.3" y="257.6" width="9.1" height="9.7" rx="0.8" fill="#ffff00" stroke="#15151f" stroke-width="1.4"/>
<rect x="756.1" y="265.0" width="9.1" height="9.7" rx="0.8" fill="#ffff00" stroke="#15151f" stroke-width="1.4"/>
<rect x="770.9" y="235.1" width="9.1" height="9.7" rx="0.8" fill="#ffff00" stroke="#15151f" stroke-width="1.4"/>
<rect x="785.7" y="237.2" width="9.1" height="9.7" rx="0.8" fill="#ffff00" stroke="#15151f" stroke-width="1.4"/>
<rect x="800.5" y="235.6" width="9.1" height="9.7" rx="0.8" fill="#ffff00" stroke="#15151f" stroke-width="1.4"/>
<polyline points="51.0,240.8 65.8,227.0 80.6,231.1 95.3,211.7 110.1,211.7 124.9,182.7 139.7,212.7 154.5,217.3 169.3,203.6 184.1,217.3 198.8,173.5 213.6,177.6 228.4,193.9 243.2,199.5 258.0,199.7 272.8,209.2 287.6,202.0 302.3,207.1 317.1,217.8 331.9,205.6 346.7,220.6 361.5,229.1 376.3,231.6 391.0,231.6 405.8,235.2 420.6,230.1 435.4,218.9 450.2,233.4 465.0,229.6 479.8,220.4 494.5,212.7 509.3,207.1 524.1,236.4 538.9,235.7 553.7,265.3 568.5,267.8 583.3,267.8 598.0,265.5 612.8,256.6 627.6,251.5 642.4,256.6 657.2,257.6 672.0,265.8 686.7,257.6 701.5,257.6 716.3,257.6" fill="none" stroke="#336a9f" stroke-width="2.4" stroke-linejoin="round" />
<rect x="44.9" y="234.7" width="12.2" height="12.2" rx="2.5" fill="#ff0000"/>
<rect x="59.7" y="220.9" width="12.2" height="12.2" rx="2.5" fill="#ff0000"/>
<rect x="74.5" y="225.0" width="12.2" height="12.2" rx="2.5" fill="#ff0000"/>
<rect x="89.2" y="205.6" width="12.2" height="12.2" rx="2.5" fill="#ff0000"/>
<rect x="104.0" y="205.6" width="12.2" height="12.2" rx="2.5" fill="#ff0000"/>
<rect x="118.8" y="176.6" width="12.2" height="12.2" rx="2.5" fill="#ff0000"/>
<rect x="133.6" y="206.6" width="12.2" height="12.2" rx="2.5" fill="#ff0000"/>
<rect x="148.4" y="211.2" width="12.2" height="12.2" rx="2.5" fill="#ff0000"/>
<rect x="163.2" y="197.5" width="12.2" height="12.2" rx="2.5" fill="#ff0000"/>
<rect x="178.0" y="211.2" width="12.2" height="12.2" rx="2.5" fill="#ff0000"/>
<rect x="192.7" y="167.4" width="12.2" height="12.2" rx="2.5" fill="#ff0000"/>
<rect x="207.5" y="171.5" width="12.2" height="12.2" rx="2.5" fill="#ff0000"/>
<rect x="222.3" y="187.8" width="12.2" height="12.2" rx="2.5" fill="#ff0000"/>
<rect x="237.1" y="193.4" width="12.2" height="12.2" rx="2.5" fill="#ff0000"/>
<rect x="251.9" y="193.6" width="12.2" height="12.2" rx="2.5" fill="#ff0000"/>
<rect x="266.7" y="203.1" width="12.2" height="12.2" rx="2.5" fill="#ff0000"/>
<rect x="281.5" y="195.9" width="12.2" height="12.2" rx="2.5" fill="#ff0000"/>
<rect x="296.2" y="201.0" width="12.2" height="12.2" rx="2.5" fill="#ff0000"/>
<rect x="311.0" y="211.7" width="12.2" height="12.2" rx="2.5" fill="#ff0000"/>
<rect x="325.8" y="199.5" width="12.2" height="12.2" rx="2.5" fill="#ff0000"/>
<rect x="340.6" y="214.5" width="12.2" height="12.2" rx="2.5" fill="#ff0000"/>
<rect x="355.4" y="223.0" width="12.2" height="12.2" rx="2.5" fill="#ff0000"/>
<rect x="370.2" y="225.5" width="12.2" height="12.2" rx="2.5" fill="#ff0000"/>
<rect x="384.9" y="225.5" width="12.2" height="12.2" rx="2.5" fill="#ff0000"/>
<rect x="399.7" y="229.1" width="12.2" height="12.2" rx="2.5" fill="#ff0000"/>
<rect x="414.5" y="224.0" width="12.2" height="12.2" rx="2.5" fill="#ff0000"/>
<rect x="429.3" y="212.8" width="12.2" height="12.2" rx="2.5" fill="#ff0000"/>
<rect x="444.1" y="227.3" width="12.2" height="12.2" rx="2.5" fill="#ff0000"/>
<rect x="458.9" y="223.5" width="12.2" height="12.2" rx="2.5" fill="#ff0000"/>
<rect x="473.7" y="214.3" width="12.2" height="12.2" rx="2.5" fill="#ff0000"/>
<rect x="488.4" y="206.6" width="12.2" height="12.2" rx="2.5" fill="#ff0000"/>
<rect x="503.2" y="201.0" width="12.2" height="12.2" rx="2.5" fill="#ff0000"/>
<rect x="518.0" y="230.3" width="12.2" height="12.2" rx="2.5" fill="#ff0000"/>
<rect x="532.8" y="229.6" width="12.2" height="12.2" rx="2.5" fill="#ff0000"/>
<rect x="547.6" y="259.2" width="12.2" height="12.2" rx="2.5" fill="#ff0000"/>
<rect x="562.4" y="261.7" width="12.2" height="12.2" rx="2.5" fill="#ff0000"/>
<rect x="577.2" y="261.7" width="12.2" height="12.2" rx="2.5" fill="#ff0000"/>
<rect x="591.9" y="259.4" width="12.2" height="12.2" rx="2.5" fill="#ff0000"/>
<rect x="606.7" y="250.5" width="12.2" height="12.2" rx="2.5" fill="#ff0000"/>
<rect x="621.5" y="245.4" width="12.2" height="12.2" rx="2.5" fill="#ff0000"/>
<rect x="636.3" y="250.5" width="12.2" height="12.2" rx="2.5" fill="#ff0000"/>
<rect x="651.1" y="251.5" width="12.2" height="12.2" rx="2.5" fill="#ff0000"/>
<rect x="665.9" y="259.7" width="12.2" height="12.2" rx="2.5" fill="#ff0000"/>
<rect x="680.6" y="251.5" width="12.2" height="12.2" rx="2.5" fill="#ff0000"/>
<rect x="695.4" y="251.5" width="12.2" height="12.2" rx="2.5" fill="#ff0000"/>
<rect x="710.2" y="251.5" width="12.2" height="12.2" rx="2.5" fill="#ff0000"/>
<text x="24.3" y="53.7" font-size="16.9" text-anchor="end"  textLength="18.13" lengthAdjust="spacingAndGlyphs">55</text>
<text x="24.3" y="104.70000000000003" font-size="16.9" text-anchor="end"  textLength="18.13" lengthAdjust="spacingAndGlyphs">45</text>
<text x="24.3" y="155.7" font-size="16.9" text-anchor="end"  textLength="18.13" lengthAdjust="spacingAndGlyphs">35</text>
<text x="24.3" y="206.7" font-size="16.9" text-anchor="end"  textLength="18.13" lengthAdjust="spacingAndGlyphs">25</text>
<text x="24.3" y="257.7" font-size="16.9" text-anchor="end"  textLength="18.13" lengthAdjust="spacingAndGlyphs">15</text>
<text x="24.3" y="308.7" font-size="16.9" text-anchor="end"  textLength="9.07" lengthAdjust="spacingAndGlyphs">5</text>
<text x="28.8" y="359.7" font-size="16.9" text-anchor="end"  textLength="19.92" lengthAdjust="spacingAndGlyphs">(5)</text>
<text x="50.3925" y="380" font-size="17.0" text-anchor="middle"  textLength="55.54" lengthAdjust="spacingAndGlyphs">Week 1</text>
<text x="124.3175" y="380" font-size="17.0" text-anchor="middle"  textLength="55.54" lengthAdjust="spacingAndGlyphs">Week 6</text>
<text x="198.2425" y="380" font-size="17.0" text-anchor="middle"  textLength="63.65" lengthAdjust="spacingAndGlyphs">Week 11</text>
<text x="272.16749999999996" y="380" font-size="17.0" text-anchor="middle"  textLength="64.55" lengthAdjust="spacingAndGlyphs">Week 16</text>
<text x="346.09250000000003" y="380" font-size="17.0" text-anchor="middle"  textLength="64.55" lengthAdjust="spacingAndGlyphs">Week 21</text>
<text x="420.0175" y="380" font-size="17.0" text-anchor="middle"  textLength="64.55" lengthAdjust="spacingAndGlyphs">Week 26</text>
<text x="493.9425" y="380" font-size="17.0" text-anchor="middle"  textLength="64.55" lengthAdjust="spacingAndGlyphs">Week 31</text>
<text x="567.8675" y="380" font-size="17.0" text-anchor="middle"  textLength="64.55" lengthAdjust="spacingAndGlyphs">Week 36</text>
<text x="641.7925" y="380" font-size="17.0" text-anchor="middle"  textLength="64.55" lengthAdjust="spacingAndGlyphs">Week 41</text>
<text x="715.7175" y="380" font-size="17.0" text-anchor="middle"  textLength="64.55" lengthAdjust="spacingAndGlyphs">Week 46</text>
<text x="789.6425" y="380" font-size="17.0" text-anchor="middle"  textLength="64.55" lengthAdjust="spacingAndGlyphs">Week 51</text>
<text x="57.6" y="44.0" font-size="17.2" text-anchor="start" textLength="172.7" lengthAdjust="spacingAndGlyphs">Gray Area = 2015-2023</text>
<text x="238.3" y="44.0" font-size="17.2" text-anchor="start" textLength="48.5" lengthAdjust="spacingAndGlyphs">Range</text>
<text x="53.6" y="418.9" font-size="17.2" text-anchor="start" textLength="370.4" lengthAdjust="spacingAndGlyphs">2019 USGC 3-2-1 WTI Refinery Margin (US$/bbl)</text>
<line x1="31.8" y1="413.5" x2="51" y2="413.5" stroke="#2189c2" stroke-width="4.3" stroke-linecap="round"/>
<text x="459.1" y="418.9" font-size="17.2" text-anchor="start"  textLength="35.71" lengthAdjust="spacingAndGlyphs">2020</text>
<line x1="436" y1="413.5" x2="457.8" y2="413.5" stroke="#000" stroke-width="3"/>
<polygon points="447,409.0 451.5,413.5 447,418.0 442.5,413.5" fill="#000"/>
<text x="529.4" y="418.9" font-size="17.2" text-anchor="start"  textLength="35.71" lengthAdjust="spacingAndGlyphs">2021</text>
<line x1="506" y1="413.5" x2="528" y2="413.5" stroke="#203f19" stroke-width="2.4"/>
<polygon points="517.2,410.3 520.2,416.5 514.2,416.5" fill="#e4e8e2" stroke="#151515" stroke-width="1" stroke-linejoin="round"/>
<text x="600.6" y="418.9" font-size="17.2" text-anchor="start"  textLength="35.71" lengthAdjust="spacingAndGlyphs">2022</text>
<line x1="577.3" y1="413.7" x2="599.1" y2="413.7" stroke="#000" stroke-width="2.4"/>
<rect x="585.2" y="411.0" width="5.6" height="5.6" fill="#1c4670" stroke="#12304f" stroke-width="0.8"/>
<text x="670.9" y="418.9" font-size="17.2" text-anchor="start"  textLength="71.98" lengthAdjust="spacingAndGlyphs">2023 YTD</text>
<line x1="647.4" y1="413.7" x2="669.8" y2="413.7" stroke="#ffbc00" stroke-width="2.5"/>
<rect x="653.9" y="409.1" width="9.4" height="9.4" rx="0.8" fill="#ffff00" stroke="#15151f" stroke-width="1.4"/>
<text x="778.9" y="418.9" font-size="17.2" text-anchor="start"  textLength="35.71" lengthAdjust="spacingAndGlyphs">2024</text>
<line x1="755.3" y1="413.5" x2="777.3" y2="413.5" stroke="#336a9f" stroke-width="2"/>
<rect x="760.2" y="407.2" width="12.8" height="12.8" rx="2.5" fill="#ff0000"/>
<text x="760.2" y="437.0" font-size="17.6" font-style="italic" style="fill:#7f6000" textLength="63.5" lengthAdjust="spacingAndGlyphs">C-MACC</text>
</svg>
</body></html>
